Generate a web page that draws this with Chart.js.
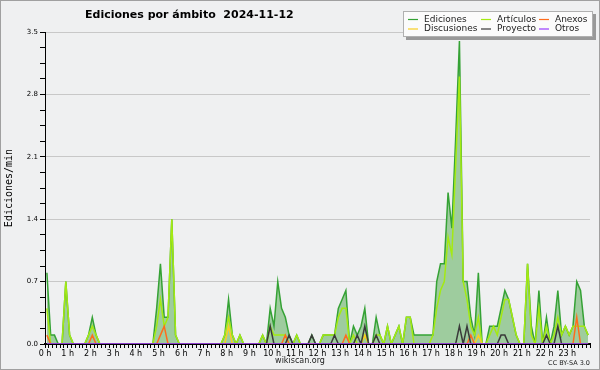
<!DOCTYPE html>
<html><head><meta charset="utf-8">
<script src="https://cdn.jsdelivr.net/npm/chart.js@4/dist/chart.umd.min.js"></script>
<style>html,body{margin:0;padding:0;background:#eff0f1;}canvas{display:block;}</style>
</head><body>
<canvas id="c" width="600" height="370"></canvas>
<script>
const TITLE = 'Ediciones por ámbito  2024-11-12';
const Y_TITLE = 'Ediciones/min';
const FOOTER = 'wikiscan.org';
const LICENSE = 'CC BY-SA 3.0';
const hourLabels = ['0 h','1 h','2 h','3 h','4 h','5 h','6 h','7 h','8 h','9 h','10 h','11 h','12 h','13 h','14 h','15 h','16 h','17 h','18 h','19 h','20 h','21 h','22 h','23 h'];
const yTickLabels = ['0.0','0.7','1.4','2.1','2.8','3.5'];
const seriesNames = ['Ediciones','Artículos','Anexos','Discusiones','Proyecto','Otros'];

// one value per 10-minute bin (edits per minute)
const ediciones = [
0.8,0.1,0.1,0,0,0.7, 0.1,0,0,0,0,0.1,
0.3,0.1,0,0,0,0, 0,0,0,0,0,0,
0,0,0,0,0,0.4, 0.9,0.3,0.3,1.4,0.1,0,
0,0,0,0,0,0, 0,0,0,0,0,0.1,
0.5,0.1,0,0.1,0,0, 0,0,0,0.1,0,0.4,
0.2,0.7,0.4,0.3,0.1,0, 0.1,0,0,0,0.1,0,
0,0.1,0.1,0.1,0.1,0.4, 0.5,0.6,0,0.2,0.1,0.2,
0.4,0,0,0.3,0.1,0, 0.2,0,0.1,0.2,0,0.3,
0.3,0.1,0.1,0.1,0.1,0.1, 0.1,0.7,0.9,0.9,1.7,1.3,
2.3,3.4,0.7,0.7,0.3,0.1, 0.8,0,0,0.2,0.2,0.2,
0.4,0.6,0.5,0.3,0.1,0, 0,0.9,0.2,0,0.6,0,
0.3,0,0.2,0.6,0.1,0.2, 0.1,0.2,0.7,0.6,0.2,0.1
];
const articulos = [
0.4,0,0,0,0,0.7, 0.1,0,0,0,0,0.1,
0.2,0.1,0,0,0,0, 0,0,0,0,0,0,
0,0,0,0,0,0.2, 0.5,0.2,0.3,1.4,0.1,0,
0,0,0,0,0,0, 0,0,0,0,0,0.1,
0.3,0.1,0,0.1,0,0, 0,0,0,0.1,0,0.2,
0.1,0.1,0.1,0.1,0,0, 0.1,0,0,0,0,0,
0,0.1,0.1,0.1,0.1,0.3, 0.4,0.4,0,0.1,0,0,
0.1,0,0,0.1,0.1,0, 0.2,0,0.1,0.2,0,0.3,
0.3,0,0,0,0,0, 0.1,0.4,0.6,0.7,1.2,1.0,
2.0,3.0,0.7,0.5,0.2,0.1, 0.3,0,0,0.1,0.2,0.1,
0.3,0.5,0.5,0.3,0.1,0, 0,0.9,0.1,0,0.4,0,
0.2,0,0.1,0.3,0.1,0.2, 0.1,0.2,0.2,0.2,0.2,0.1
];
const anexos = [
0.1,0,0,0,0,0, 0,0,0,0,0,0,
0.1,0,0,0,0,0, 0,0,0,0,0,0,
0,0,0,0,0,0, 0.1,0.2,0,0,0,0,
0,0,0,0,0,0, 0,0,0,0,0,0,
0,0,0,0,0,0, 0,0,0,0,0,0,
0,0,0,0.1,0,0, 0,0,0,0,0,0,
0,0,0,0,0,0, 0,0.1,0,0,0,0,
0,0,0,0,0,0, 0,0,0,0,0,0,
0,0,0,0,0,0, 0,0,0,0,0,0,
0,0,0,0,0.1,0, 0,0,0,0,0,0,
0,0,0,0,0,0, 0,0,0,0,0,0,
0,0,0,0,0,0, 0,0,0.3,0,0,0
];
const discusiones = [
0,0,0,0,0,0, 0,0,0,0,0,0,
0,0,0,0,0,0, 0,0,0,0,0,0,
0,0,0,0,0,0, 0,0,0,0,0,0,
0,0,0,0,0,0, 0,0,0,0,0,0,
0.2,0,0,0,0,0, 0,0,0,0,0,0,
0,0,0,0,0,0, 0,0,0,0,0,0,
0,0,0,0,0,0, 0,0,0,0,0,0,
0.1,0,0,0,0,0, 0,0,0,0,0,0,
0,0,0,0,0,0, 0,0,0,0,0,0,
0,0,0,0,0,0, 0.1,0,0,0,0,0,
0,0,0,0,0,0, 0,0,0,0,0,0,
0,0,0,0,0,0, 0,0,0,0,0,0
];
const proyecto = [
0,0,0,0,0,0, 0,0,0,0,0,0,
0,0,0,0,0,0, 0,0,0,0,0,0,
0,0,0,0,0,0, 0,0,0,0,0,0,
0,0,0,0,0,0, 0,0,0,0,0,0,
0,0,0,0,0,0, 0,0,0,0,0,0.2,
0,0,0,0,0.1,0, 0,0,0,0,0.1,0,
0,0,0,0,0.1,0, 0,0,0,0,0.1,0,
0.2,0,0,0.1,0,0, 0,0,0,0,0,0,
0,0,0,0,0,0, 0,0,0,0,0,0,
0,0.2,0,0.2,0,0, 0,0,0,0,0,0,
0.1,0.1,0,0,0,0, 0,0,0,0,0,0,
0.1,0,0,0.2,0,0, 0,0,0,0,0,0
];
const otros = [
0,0,0,0,0,0, 0,0,0,0,0,0,
0,0,0,0,0,0, 0,0,0,0,0,0,
0,0,0,0,0,0, 0,0,0,0,0,0,
0,0,0,0,0,0, 0,0,0,0,0,0,
0,0,0,0,0,0, 0,0,0,0,0,0,
0,0,0,0,0,0, 0,0,0,0,0,0,
0,0,0,0,0,0, 0,0,0,0,0,0,
0,0,0,0,0,0, 0,0,0,0,0,0,
0,0,0,0,0,0, 0,0,0,0,0,0,
0,0,0,0,0,0, 0,0,0,0,0,0,
0,0,0,0,0,0, 0,0,0,0,0,0,
0,0,0,0,0,0, 0,0,0,0,0,0
];

const seriesValues = [ediciones, articulos, anexos, discusiones, proyecto, otros];
const seriesColors = ['#35a235', '#a4ea12', '#ff6c1c', '#f9cf22', '#3a3a3a', '#9a3cff'];
const drawOrder = [6, 5, 3, 4, 2, 1];
const BINS_PER_HOUR = 6;

const toPoints = arr => arr.map((v, i) => ({ x: i + 0.5, y: v }));

const datasets = seriesNames.map((name, k) => ({
  label: name,
  data: toPoints(seriesValues[k]),
  borderColor: seriesColors[k],
  backgroundColor: k === 0 ? '#9ecc9e' : seriesColors[k],
  fill: k === 0 ? 'origin' : false,
  borderWidth: 1.5,
  pointRadius: 0,
  tension: 0,
  order: drawOrder[k]
}));

const deco = {
  id: 'deco',
  beforeDraw(chart) {
    const ctx = chart.ctx;
    ctx.save();
    ctx.fillStyle = '#eff0f1';
    ctx.fillRect(0, 0, chart.width, chart.height);
    ctx.restore();
  },
  afterDraw(chart) {
    const ctx = chart.ctx;
    ctx.save();
    ctx.fillStyle = '#000';
    ctx.font = 'bold 11px "DejaVu Sans"';
    ctx.textAlign = 'left';
    ctx.textBaseline = 'middle';
    ctx.fillText(TITLE, 85, 15);
    const bx = 403, by = 11, bw = 190, bh = 26;
    ctx.fillStyle = '#999';
    ctx.fillRect(bx + 3, by + 3, bw, bh);
    ctx.fillStyle = '#fbfbfb';
    ctx.fillRect(bx, by, bw, bh);
    ctx.strokeStyle = '#b0b0b0';
    ctx.lineWidth = 1;
    ctx.strokeRect(bx + 0.5, by + 0.5, bw - 1, bh - 1);
    const cols = [408, 481, 539];
    const rows = [19.5, 29];
    const layout = [[0,0,0],[1,1,0],[2,2,0],[3,0,1],[4,1,1],[5,2,1]];
    ctx.font = '9px "DejaVu Sans"';
    ctx.textBaseline = 'middle';
    layout.forEach(([k, c, r]) => {
      const x = cols[c], y = rows[r];
      ctx.strokeStyle = seriesColors[k];
      ctx.lineWidth = 1.2;
      ctx.beginPath(); ctx.moveTo(x, y); ctx.lineTo(x + 10, y); ctx.stroke();
      ctx.fillStyle = '#222';
      ctx.fillText(seriesNames[k], x + 16, y);
    });
    ctx.fillStyle = '#222';
    ctx.font = '8px "DejaVu Sans"';
    ctx.textAlign = 'center';
    ctx.fillText(FOOTER, 300, 361);
    ctx.font = '6.5px "DejaVu Sans"';
    ctx.textAlign = 'right';
    ctx.fillText(LICENSE, 590, 363);
    ctx.strokeStyle = '#a0a0a0';
    ctx.lineWidth = 1;
    ctx.strokeRect(0.5, 0.5, chart.width - 1, chart.height - 1);
    ctx.restore();
  }
};

new Chart(document.getElementById('c'), {
  type: 'line',
  data: { datasets },
  options: {
    responsive: false,
    animation: false,
    devicePixelRatio: 1,
    layout: { padding: { left: 0, right: 10, top: 32, bottom: 0 } },
    plugins: { legend: { display: false }, title: { display: false }, tooltip: { enabled: false } },
    scales: {
      x: {
        type: 'linear', min: 0, max: hourLabels.length * BINS_PER_HOUR, z: 1,
        border: { display: true, color: '#000', width: 2 },
        grid: { drawOnChartArea: false, drawTicks: true, tickLength: 4, color: '#000', tickColor: '#000', lineWidth: 1 },
        ticks: {
          stepSize: 1, autoSkip: false, maxRotation: 0, minRotation: 0, padding: 1,
          font: { family: 'DejaVu Sans', size: 8 }, color: '#000',
          callback: (v, i) => (i % BINS_PER_HOUR === 0 && i / BINS_PER_HOUR < hourLabels.length) ? hourLabels[i / BINS_PER_HOUR] : ''
        },
        afterFit: s => { s.height = 26; }
      },
      y: {
        type: 'linear', min: 0, max: 3.5,
        border: { display: true, color: '#000', width: 1 },
        grid: {
          color: c => (c.index % 4 === 0 && c.index > 0) ? '#c8c8c8' : 'rgba(0,0,0,0)',
          tickColor: '#000', tickLength: 5, drawTicks: true, lineWidth: 1
        },
        ticks: {
          stepSize: 0.175, autoSkip: false, padding: 2,
          font: { family: 'DejaVu Sans', size: 7 }, color: '#000',
          callback: (v, i) => i % 4 === 0 ? yTickLabels[i / 4] : ''
        },
        title: { display: true, text: Y_TITLE, font: { family: 'DejaVu Sans Mono', size: 10 }, color: '#000', padding: { top: 3, bottom: 0 } },
        afterFit: s => { s.width = 45; }
      }
    }
  },
  plugins: [deco]
});
</script>
</body></html>
